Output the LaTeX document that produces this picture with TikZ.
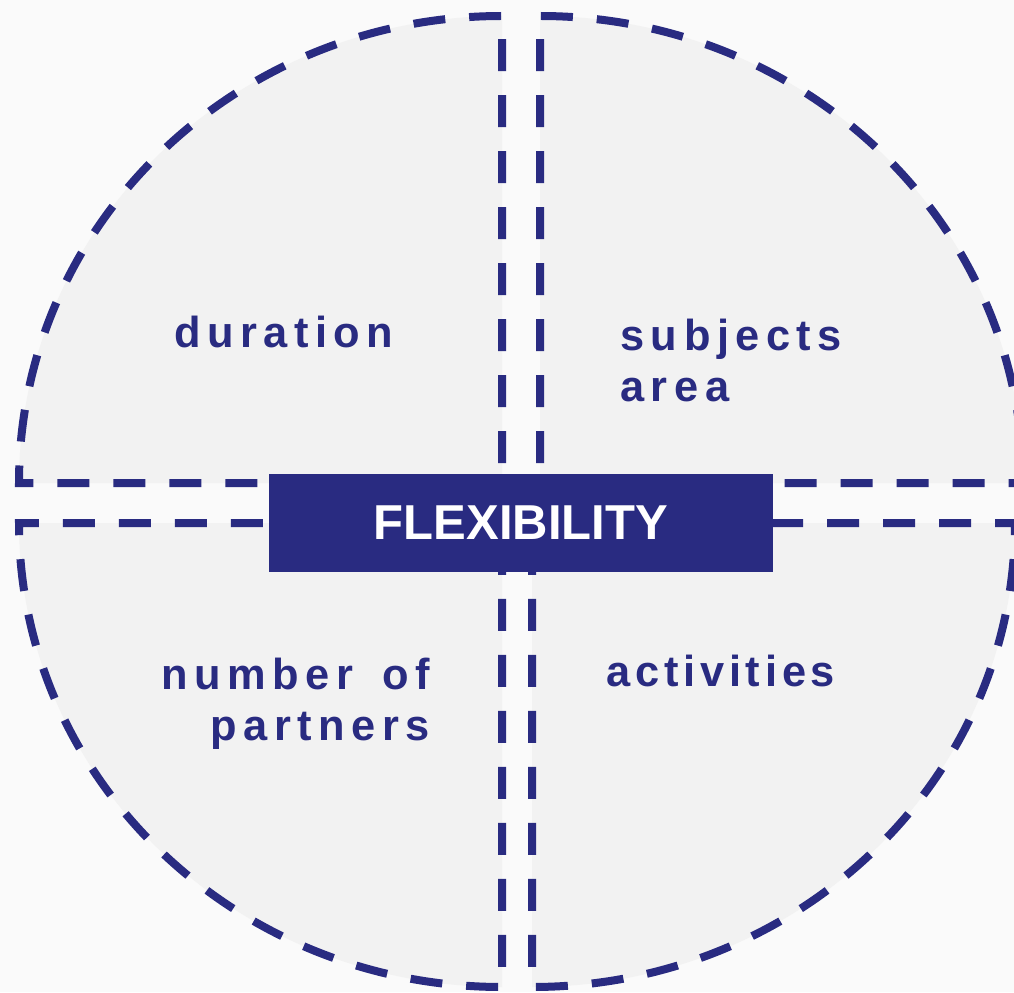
\documentclass[tikz,border=0pt]{standalone}
\usepackage{fontspec}
\setmainfont{Liberation Sans}
\newfontfamily\trackfont[LetterSpace=15]{Liberation Sans}
\definecolor{flexblue}{RGB}{41,43,129}
\definecolor{discgray}{RGB}{242,242,242}
\definecolor{papergray}{RGB}{250,250,250}
\tikzset{
  quad/.style={fill=discgray,draw=flexblue,line width=0.16cm,
    dash pattern=on 0.64cm off 0.48cm,dash phase=0.72cm},
  lbl/.style={text=flexblue,inner sep=0pt,
    font=\trackfont\bfseries\fontsize{24.7}{28.8}\selectfont},
  flexbox/.style={fill=flexblue,text=white,inner sep=0pt,
    minimum width=10.08cm,minimum height=1.98cm,
    font=\bfseries\fontsize{27.9}{32}\selectfont},
}
\begin{document}
\begin{tikzpicture}[x=0.02cm,y=0.02cm]
    \useasboundingbox (0,0) rectangle (1014,992);
    \fill[papergray] (0,0) rectangle (1014,992);
    %% top left quarter
    \draw[quad] (502,509) -- (502,976) arc[start angle=90,end angle=180,x radius=483,y radius=467] -- cycle;
    %% top right quarter
    \draw[quad] (540,509) -- (540,976) arc[start angle=90,end angle=0,x radius=483,y radius=467] -- cycle;
    %% bottom left quarter
    \draw[quad] (502,469) -- (502,5) arc[start angle=270,end angle=180,x radius=483,y radius=464] -- cycle;
    %% bottom right quarter
    \draw[quad] (532,469) -- (532,5) arc[start angle=270,end angle=360,x radius=483,y radius=464] -- cycle;
    %% centre box
    \node[flexbox] (flex) at (521,469) {FLEXIBILITY};
    %% labels (base = last line)
    \node[lbl,anchor=base west] (duration) at (174,644) {duration};
    \node[lbl,anchor=base west,align=left] (subjects) at (620,591) {subjects\\area};
    \node[lbl,anchor=base east,align=right] (partners) at (430,252) {number\hspace{0.58cm}of\\partners};
    \node[lbl,anchor=base west] (activities) at (606,306) {\addfontfeature{LetterSpace=11}activities};
\end{tikzpicture}
\end{document}
